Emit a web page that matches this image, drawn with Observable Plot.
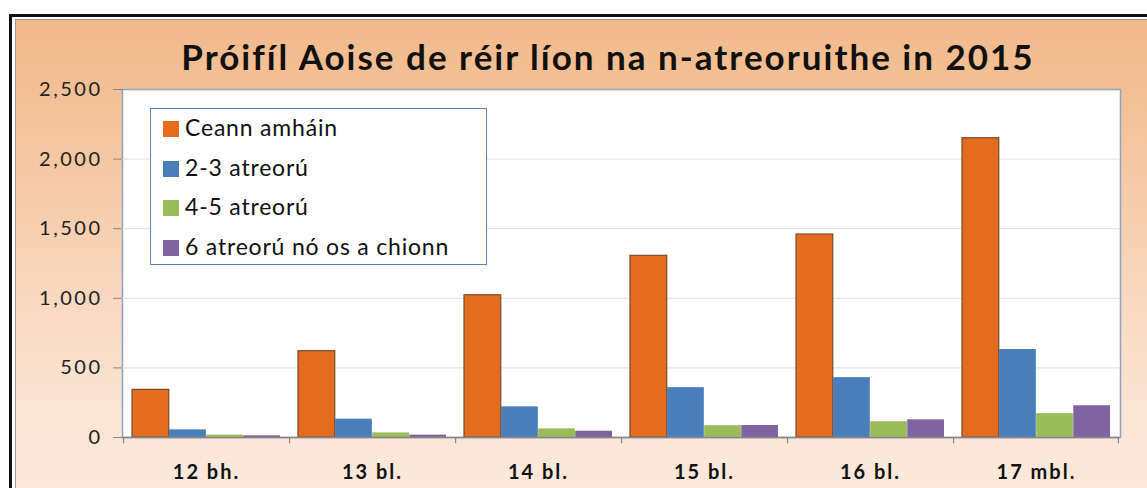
<!DOCTYPE html>
<html><head><meta charset="utf-8">
<script src="https://cdn.jsdelivr.net/npm/d3@7"></script>
<script src="https://cdn.jsdelivr.net/npm/@observablehq/plot@0.6"></script>
<style>
html,body{margin:0;padding:0;background:#fff;width:1147px;height:488px;overflow:hidden;font-family:Lato,"Open Sans",sans-serif;}
#outer{position:absolute;left:9px;top:14px;width:1200px;height:520px;border-left:3px solid #111;border-top:3px solid #111;}
#inner{position:absolute;left:15px;top:19px;width:1200px;height:520px;border-left:1px solid #9a9a9a;border-top:1px solid #9a9a9a;
  background:linear-gradient(to bottom,#F1BA8B 0%,#F4C39B 20%,#F8D6BC 50%,#FBE5D5 75%,#FCEBDF 100%);}
#title{position:absolute;left:0;top:35px;width:1216px;text-align:center;font-size:35px;font-weight:bold;color:#111;white-space:nowrap;letter-spacing:2px;}
#chart{position:absolute;left:0;top:0;}
#chart g[aria-label="y-axis tick label"] text{letter-spacing:2.5px;}
#chart g[aria-label="text"] text{letter-spacing:2px;}
#legend{position:absolute;left:150px;top:108px;width:337px;height:157px;background:#fff;border:1.5px solid #5B83BE;box-sizing:border-box;}
.item{position:absolute;left:12px;height:30px;line-height:30px;font-size:23px;color:#111;white-space:nowrap;letter-spacing:0.8px;}
.sw{display:inline-block;width:16px;height:16px;margin-right:6px;vertical-align:-1px;}
</style></head>
<body>
<div id="outer"></div>
<div id="inner"></div>
<div id="chart"></div>
<div id="title">Próifíl Aoise de réir líon na n-atreoruithe in 2015</div>
<div id="legend"></div>
<script>
const categories = ["12 bh.", "13 bl.", "14 bl.", "15 bl.", "16 bl.", "17 mbl."];
const seriesNames = ["Ceann amháin", "2-3 atreorú", "4-5 atreorú", "6 atreorú nó os a chionn"];
const ceannAmhain = [342, 620, 1022, 1305, 1458, 2150];
const atreoru2to3 = [55, 132, 220, 358, 430, 632];
const atreoru4to5 = [17, 33, 62, 85, 113, 171];
const atreoru6plus = [12, 17, 45, 86, 127, 228];
const yTicks = [0, 500, 1000, 1500, 2000, 2500];
const colors = ["#E46C1E", "#4A7EBB", "#9BBB59", "#8064A2"];

const seriesValues = [ceannAmhain, atreoru2to3, atreoru4to5, atreoru6plus];
const rows = [];
seriesValues.forEach((vals, j) => vals.forEach((v, i) => rows.push({category: categories[i], series: seriesNames[j], value: v})));

const W = 1147, H = 488, mt = 89, mb = 51, ml = 122, mr = 27;
const band = (W - ml - mr) / categories.length;
const pad = 9;
const barW = (band - 2 * pad) / seriesNames.length;

const barMarks = seriesNames.map((s, j) => Plot.barY(rows.filter(d => d.series === s), {
  x: "category", y: "value", fill: "series",
  insetLeft: pad + j * barW, insetRight: band - pad - (j + 1) * barW,
  stroke: j === 0 ? "#7a4a2c" : "none", strokeWidth: 1.2
}));

const chart = Plot.plot({
  width: W, height: H,
  marginTop: mt, marginBottom: mb, marginLeft: ml, marginRight: mr,
  style: {background: "transparent", fontFamily: "Lato, 'Open Sans', sans-serif", overflow: "visible"},
  x: {domain: categories, padding: 0, axis: null},
  y: {domain: [0, 2500], axis: null},
  color: {domain: seriesNames, range: colors},
  marks: [
    Plot.frame({fill: "white", stroke: "#8EA4C3", strokeWidth: 1.5}),
    Plot.ruleY(yTicks.filter(t => t > 0 && t < 2500), {stroke: "#DEDEDE"}),
    ...barMarks,
    Plot.ruleY([0], {stroke: "#868686", strokeWidth: 1.5}),
    Plot.barY(categories, {x: d => d, y1: 0, y2: -45, fill: "#868686", insetRight: band - 1.5}),
    Plot.barY([categories[categories.length - 1]], {x: d => d, y1: 0, y2: -45, fill: "#868686", insetLeft: band - 1.5}),
    Plot.axisY(yTicks, {label: null, tickFormat: d3.format(","), tickSize: 9, tickPadding: 11, stroke: "#868686", fill: "#222", fontSize: 20}),
    Plot.text(categories, {x: d => d, y: 0, dy: 35, fontWeight: "bold", fontSize: 20, fill: "#111"})
  ]
});
document.getElementById("chart").appendChild(chart);

const legend = document.getElementById("legend");
seriesNames.forEach((s, j) => {
  const div = document.createElement("div");
  div.className = "item";
  div.style.top = (3 + j * 39.5) + "px";
  const sw = document.createElement("span");
  sw.className = "sw";
  sw.style.background = colors[j];
  div.appendChild(sw);
  div.appendChild(document.createTextNode(s));
  legend.appendChild(div);
});
</script>
</body></html>
